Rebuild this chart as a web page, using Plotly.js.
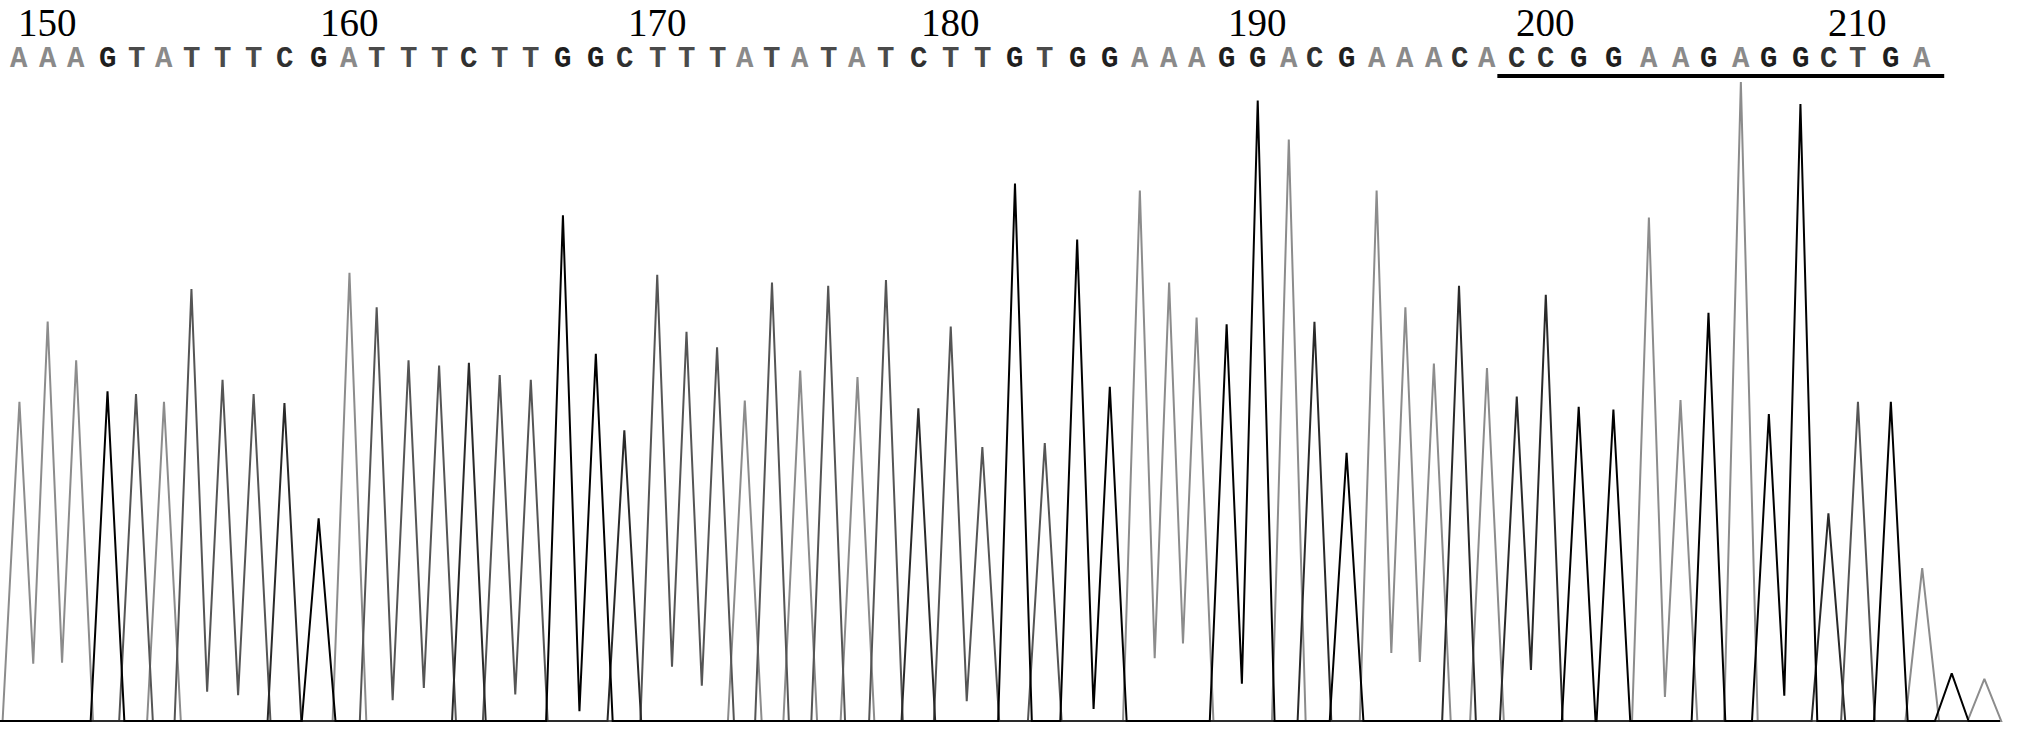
<!DOCTYPE html>
<html>
<head>
<meta charset="utf-8">
<script src="https://cdn.plot.ly/plotly-3.0.1.min.js"></script>
<style>
  html, body { margin: 0; padding: 0; background: #fff; }
  #chromatogram { width: 2031px; height: 738px; }
</style>
</head>
<body>
<div id="chromatogram"></div>
<script>
// called bases, first one is position 149
var firstPosition = 149;
var calledBases = 'AAAGTATTTCGATTTCTTGGCTTTATATATCTTGTGGAAAGGACGAAACACCGGAAGAGGCTGA'.split('');

// peak locations (scan number) and peak heights (signal) for each called base
var peakLoc = [
  1707.5, 1718.4, 1729.4, 1741.5, 1752.5, 1763.3, 1773.9, 1785.9, 1797.9, 1809.8,
  1823.0, 1834.9, 1845.4, 1857.7, 1869.5, 1881.0, 1892.9, 1904.9, 1917.3, 1930.0,
  1941.0, 1953.7, 1965.0, 1976.8, 1987.5, 1998.0, 2008.9, 2019.7, 2031.0, 2042.0,
  2054.5, 2067.0, 2079.2, 2091.8, 2103.3, 2115.8, 2128.4, 2140.0, 2151.3, 2161.9,
  2173.5, 2185.5, 2197.5, 2207.4, 2219.8, 2231.4, 2242.5, 2253.5, 2263.2, 2274.0,
  2285.5, 2296.7, 2309.4, 2322.8, 2336.5, 2348.7, 2359.5, 2372.0, 2382.8, 2395.0,
  2405.8, 2417.2, 2429.9, 2442.0
];
var peakHeight = [
  986, 1234, 1114, 1018, 1010, 986, 1334, 1054, 1010, 982,
  626, 1384, 1278, 1114, 1098, 1106, 1068, 1054, 1562, 1134,
  898, 1378, 1202, 1154, 990, 1354, 1082, 1344, 1062, 1362,
  966, 1218, 846, 1660, 858, 1487, 1032, 1638, 1354, 1246,
  1225, 1916, 1796, 1233, 828, 1638, 1278, 1104, 1344, 1090,
  1002, 1316, 970, 962, 1555, 991, 1261, 1973, 948, 1905,
  641, 986, 986, 472
];

// small uncalled peaks at the end of the read
var tailBases = ['G', 'A'];
var tailLoc = [2453.4, 2466.0];
var tailHeight = [147, 130];

// scan window shown
var scanStart = 1700;
var scanEnd = 2472;

// positions labelled above the sequence, and the underlined stretch
var labelPositions = [150, 160, 170, 180, 190, 200, 210];
var markedFrom = 199;
var markedTo = 212;

var traceColor = { A: '#8c8c8c', C: '#2a2a2a', G: '#000000', T: '#555555' };
var letterColor = { A: '#8a8a8a', C: '#303030', G: '#1e1e1e', T: '#4a4a4a' };
var halfWidth = 6.5;   // peak half width at the baseline, in scans

var allBases = calledBases.concat(tailBases);
var allLoc = peakLoc.concat(tailLoc);
var allHeight = peakHeight.concat(tailHeight);

function buildTrace(base) {
  var xs = [scanStart], ys = [0];
  var idx = [];
  for (var i = 0; i < allBases.length; i++) if (allBases[i] === base) idx.push(i);
  for (var k = 0; k < idx.length; k++) {
    var x1 = allLoc[idx[k]], h1 = allHeight[idx[k]];
    var prevJoined = k > 0 && allLoc[idx[k - 1]] + halfWidth > x1 - halfWidth;
    if (!prevJoined) { xs.push(x1 - halfWidth); ys.push(0); }
    xs.push(x1); ys.push(h1);
    if (k + 1 < idx.length && allLoc[idx[k + 1]] - halfWidth < x1 + halfWidth) {
      // neighbouring peak of the same dye: the two flanks meet above the baseline
      var x2 = allLoc[idx[k + 1]], h2 = allHeight[idx[k + 1]];
      var xv = (halfWidth * (h1 - h2) + h1 * x1 + h2 * x2) / (h1 + h2);
      xs.push(xv); ys.push(h1 * (1 - (xv - x1) / halfWidth));
    } else {
      xs.push(x1 + halfWidth); ys.push(0);
    }
  }
  xs.push(scanEnd); ys.push(0);
  return {
    x: xs, y: ys, name: base, type: 'scatter', mode: 'lines',
    line: { color: traceColor[base], width: 2 },
    hoverinfo: 'skip'
  };
}

var data = ['A', 'T', 'C', 'G'].map(buildTrace);

var annotations = [];
calledBases.forEach(function (b, i) {
  annotations.push({
    x: peakLoc[i], xref: 'x', y: 0.920, yref: 'paper',
    text: '<b>' + b + '</b>', showarrow: false,
    xanchor: 'center', yanchor: 'middle',
    font: { family: 'Liberation Mono, Courier New, monospace', size: 29, color: letterColor[b] }
  });
});
labelPositions.forEach(function (p) {
  annotations.push({
    x: peakLoc[p - firstPosition], xref: 'x', y: 0.9695, yref: 'paper',
    text: String(p), showarrow: false,
    xanchor: 'center', yanchor: 'middle',
    font: { family: 'Liberation Serif, Times New Roman, serif', size: 39, color: '#000' }
  });
});

var layout = {
  width: 2031,
  height: 738,
  margin: { l: 0, r: 0, t: 0, b: 0 },
  paper_bgcolor: '#ffffff',
  plot_bgcolor: '#ffffff',
  showlegend: false,
  xaxis: { range: [1700, 2484], visible: false, showgrid: false, zeroline: false },
  yaxis: { range: [-52.5, 2226.6], visible: false, showgrid: false, zeroline: false },
  annotations: annotations,
  shapes: [{
    type: 'line', xref: 'x', yref: 'paper',
    x0: peakLoc[markedFrom - firstPosition] - 7.5,
    x1: peakLoc[markedTo - firstPosition] + 8.5,
    y0: 0.897, y1: 0.897,
    line: { color: '#000', width: 4 }
  }]
};

Plotly.newPlot('chromatogram', data, layout, { displayModeBar: false, staticPlot: true });
</script>
</body>
</html>
